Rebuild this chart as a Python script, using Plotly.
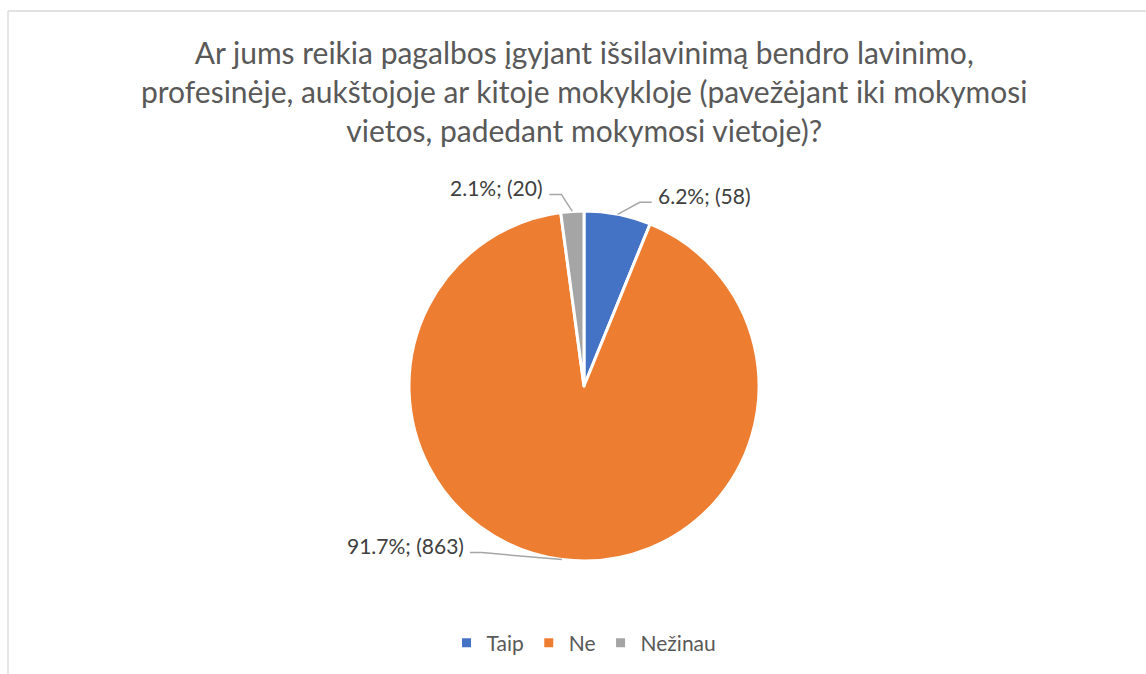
import math
import plotly.graph_objects as go

# Survey answers
categories = ["Taip", "Ne", "Nežinau"]
counts = [58, 863, 20]
colors = ["#4472C4", "#ED7D31", "#A5A5A5"]

title_lines = [
    "Ar jums reikia pagalbos įgyjant išsilavinimą bendro lavinimo,",
    "profesinėje, aukštojoje ar kitoje mokykloje (pavežėjant iki mokymosi",
    "vietos, padedant mokymosi vietoje)?",
]

W, H = 1146, 674
CX, CY, R = 584, 386, 175  # pie centre and radius in pixels

# leader line geometry per slice: (elbow dx, elbow dy, end dx) relative to slice edge
leader = {
    "Taip": (22, -12, 12),
    "Ne": (-80, -7, -12),
    "Nežinau": (-11, -17, -12),
}

total = sum(counts)

fig = go.Figure()
fig.add_trace(go.Pie(
    labels=categories,
    values=counts,
    sort=False,
    direction="clockwise",
    rotation=0,
    marker=dict(colors=colors, line=dict(color="white", width=3)),
    textinfo="none",
    hoverinfo="label+value+percent",
    domain=dict(x=[(CX - R) / W, (CX + R) / W], y=[1 - (CY + R) / H, 1 - (CY - R) / H]),
))

shapes = [
    dict(type="line", xref="x", yref="y", x0=8, y0=11, x1=W + 5, y1=11,
         line=dict(color="#D9D9D9", width=1.3)),
    dict(type="line", xref="x", yref="y", x0=8, y0=11, x1=8, y1=H + 5,
         line=dict(color="#D9D9D9", width=1.3)),
]
annotations = [dict(
    x=CX, y=32, xref="x", yref="y", xanchor="center", yanchor="top",
    text="<br>".join(title_lines), showarrow=False, align="center",
    font=dict(family="Lato", size=30, color="#595959"),
)]
cum = 0
for cat, v in zip(categories, counts):
    mid = (cum + v / 2) / total * 2 * math.pi
    cum += v
    px = CX + R * math.sin(mid)
    py = CY - R * math.cos(mid)
    ex, ey, hx = leader[cat]
    bx, by = px + ex, py + ey
    tx = bx + hx
    shapes.append(dict(type="path", xref="x", yref="y",
                       path=f"M {px:.1f},{py:.1f} L {bx:.1f},{by:.1f} L {tx:.1f},{by:.1f}",
                       line=dict(color="#A6A6A6", width=1.5)))
    annotations.append(dict(
        x=tx + (4 if hx > 0 else -4), y=by - 7, xref="x", yref="y",
        text=f"{v / total * 100:.1f}%; ({v})",
        showarrow=False, xanchor="left" if hx > 0 else "right", yanchor="middle",
        font=dict(family="Lato", size=21, color="#404040"),
    ))

fig.update_layout(
    width=W, height=H,
    margin=dict(l=0, r=0, t=0, b=0),
    paper_bgcolor="white", plot_bgcolor="white",
    xaxis=dict(range=[0, W], visible=False, fixedrange=True),
    yaxis=dict(range=[H, 0], visible=False, fixedrange=True),
    shapes=shapes,
    annotations=annotations,
    showlegend=True,
    legend=dict(orientation="h", x=CX / W, xanchor="center", y=1 - 643 / H,
                yanchor="middle", font=dict(family="Lato", size=21, color="#595959"),
                itemclick=False),
)
fig.write_html("out.html")
